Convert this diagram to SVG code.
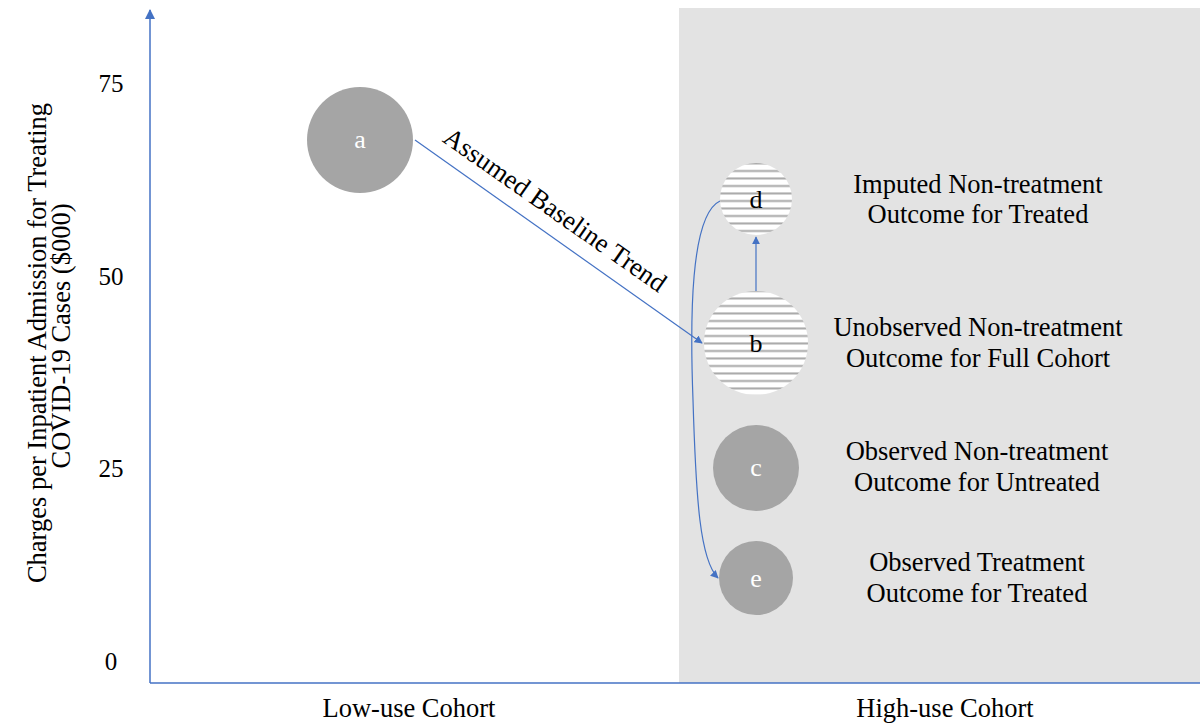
<svg xmlns="http://www.w3.org/2000/svg" width="1200" height="724" viewBox="0 0 1200 724">
<defs>
<style>
text{font-family:"Liberation Serif","Times New Roman",serif;fill:#000;font-size:26.5px}
.lbl{text-anchor:middle}
.tick{font-size:25px;text-anchor:middle}
.node{fill:#a5a5a5}
.nt{fill:#fff;font-size:26px;text-anchor:middle}
.kt{fill:#000;font-size:26px;text-anchor:middle}
.ax{stroke:#4472c4;stroke-width:1.5;fill:none}
.cn{stroke:#4472c4;stroke-width:1.2;fill:none}
</style>
<pattern id="stripes" patternUnits="userSpaceOnUse" x="0" y="0" width="10" height="7.5">
<rect width="10" height="7.5" fill="#fff"/>
<rect y="5" width="10" height="2" fill="#a8a8a8"/>
</pattern>
<marker id="ah" viewBox="0 0 10 10" refX="9" refY="5" markerWidth="8" markerHeight="8" markerUnits="userSpaceOnUse" orient="auto">
<path d="M0,0 L10,5 L0,10 z" fill="#4472c4"/>
</marker>
<marker id="ahax" viewBox="0 0 10 10" refX="9" refY="5" markerWidth="10" markerHeight="10" markerUnits="userSpaceOnUse" orient="auto">
<path d="M0,0 L10,5 L0,10 z" fill="#4472c4"/>
</marker>
</defs>
<rect width="1200" height="724" fill="#fff"/>
<rect x="679" y="8" width="521" height="675" fill="#e3e3e3"/>
<g id="axes">
<line class="ax" x1="150" y1="683" x2="150" y2="10" marker-end="url(#ahax)"/>
<line class="ax" x1="150" y1="683" x2="1200" y2="683"/>
<text class="tick" x="111" y="92">75</text>
<text class="tick" x="111" y="285">50</text>
<text class="tick" x="111" y="477">25</text>
<text class="tick" x="111" y="670">0</text>
<text class="lbl" transform="translate(46,343) rotate(-90)">Charges per Inpatient Admission for Treating</text>
<text class="lbl" transform="translate(70,336) rotate(-90)">COVID-19 Cases ($000)</text>
<text class="lbl" x="409" y="717">Low-use Cohort</text>
<text class="lbl" x="945" y="717">High-use Cohort</text>
</g>
<g id="connectors">
<line class="cn" x1="415" y1="140" x2="702" y2="343" marker-end="url(#ah)"/>
<line class="cn" x1="756" y1="291" x2="756" y2="237" marker-end="url(#ah)"/>
<path class="cn" d="M720,201 C690,215 690,320 693,400 C696,500 700,560 718,578" marker-end="url(#ah)"/>
<text transform="translate(550,217) rotate(35)" class="lbl">Assumed Baseline Trend</text>
</g>
<g id="node-a">
<circle class="node" cx="360" cy="140" r="53"/>
<text class="nt" x="360" y="148">a</text>
</g>
<g id="node-d">
<circle cx="756" cy="199" r="36" fill="url(#stripes)"/>
<text class="kt" x="756" y="208">d</text>
<text class="lbl" x="978" y="193">Imputed Non-treatment</text>
<text class="lbl" x="978" y="223">Outcome for Treated</text>
</g>
<g id="node-b">
<circle cx="756" cy="343" r="52" fill="url(#stripes)"/>
<text class="kt" x="756" y="352">b</text>
<text class="lbl" x="978" y="336">Unobserved Non-treatment</text>
<text class="lbl" x="978" y="367">Outcome for Full Cohort</text>
</g>
<g id="node-c">
<circle class="node" cx="756" cy="468" r="43"/>
<text class="nt" x="756" y="476">c</text>
<text class="lbl" x="977" y="460">Observed Non-treatment</text>
<text class="lbl" x="977" y="491">Outcome for Untreated</text>
</g>
<g id="node-e">
<circle class="node" cx="756" cy="578" r="37"/>
<text class="nt" x="756" y="587">e</text>
<text class="lbl" x="977" y="571">Observed Treatment</text>
<text class="lbl" x="977" y="602">Outcome for Treated</text>
</g>
</svg>
